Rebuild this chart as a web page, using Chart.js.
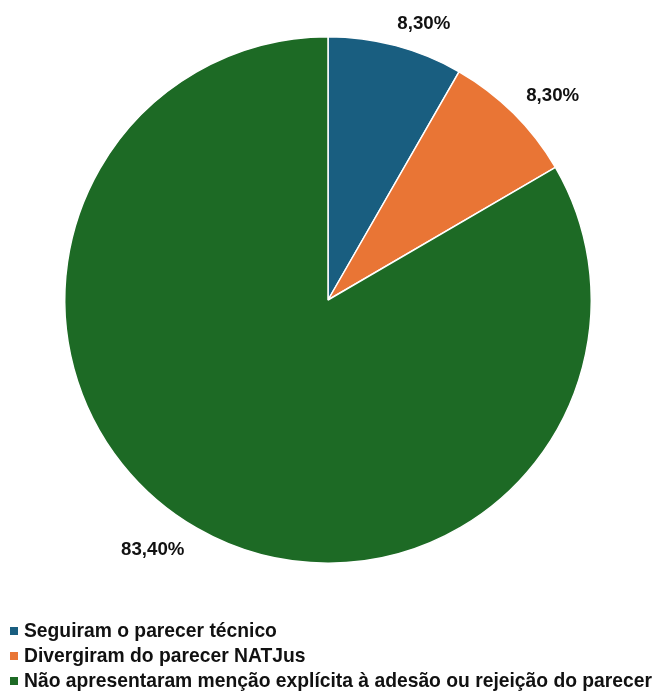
<!DOCTYPE html>
<html>
<head>
<meta charset="utf-8">
<script src="https://cdn.jsdelivr.net/npm/chart.js@4"></script>
<style>
  html, body { margin: 0; padding: 0; background: #fff; }
  #wrap { position: relative; width: 654px; height: 693px; }
  #grafica { position: absolute; left: 0; top: 0; }
  #legenda { position: absolute; left: 10px; top: 618px; font-family: "Liberation Sans", Arial, sans-serif; font-weight: bold; font-size: 19.3px; color: #111; }
  #legenda div { height: 25px; line-height: 25px; white-space: nowrap; }
  #legenda span { display: inline-block; width: 8px; height: 8px; margin-right: 6px; vertical-align: 2px; }
</style>
</head>
<body>
<div id="wrap">
  <canvas id="grafica" width="654" height="693"></canvas>
  <div id="legenda"></div>
</div>
<script>
const categorias = ['Seguiram o parecer técnico', 'Divergiram do parecer NATJus', 'Não apresentaram menção explícita à adesão ou rejeição do parecer'];
const valores = [8.30, 8.30, 83.40];
const etiquetas = ['8,30%', '8,30%', '83,40%'];
const cores = ['#195e80', '#e97535', '#1d6a25'];

// etiquetas fora da pizza, estilo Excel
const rotulos = {
    id: 'rotulos',
    afterDatasetsDraw(chart) {
        const ctx = chart.ctx;
        const meta = chart.getDatasetMeta(0);
        ctx.save();
        ctx.font = 'bold 18.7px "Liberation Sans", Arial, sans-serif';
        ctx.fillStyle = '#111';
        ctx.textBaseline = 'middle';
        meta.data.forEach((arc, i) => {
            const p = arc.getProps(['x', 'y', 'startAngle', 'endAngle', 'outerRadius'], true);
            const meio = (p.startAngle + p.endAngle) / 2;
            const r = p.outerRadius + 25;
            const x = p.x + Math.cos(meio) * r;
            const y = p.y + Math.sin(meio) * r;
            ctx.textAlign = Math.cos(meio) >= 0 ? 'left' : 'right';
            ctx.fillText(etiquetas[i], x + (Math.cos(meio) >= 0 ? -5 : 0), y + (i === 0 ? 2 : 0));
        });
        ctx.restore();
    }
};

const grafica = new Chart(document.getElementById('grafica').getContext('2d'), {
    type: 'pie',
    data: {
        labels: categorias,
        datasets: [{
            data: valores,
            backgroundColor: cores,
            borderColor: '#ffffff',
            borderWidth: 1.5
        }]
    },
    options: {
        responsive: false,
        animation: false,
        layout: { padding: { left: 64, right: 62, top: 36, bottom: 129 } },
        plugins: {
            legend: { display: false },
            tooltip: { enabled: false }
        }
    },
    plugins: [rotulos]
});

const legenda = document.getElementById('legenda');
categorias.forEach((c, i) => {
    const linha = document.createElement('div');
    const q = document.createElement('span');
    q.style.background = cores[i];
    linha.appendChild(q);
    linha.appendChild(document.createTextNode(c));
    legenda.appendChild(linha);
});
</script>
</body>
</html>
